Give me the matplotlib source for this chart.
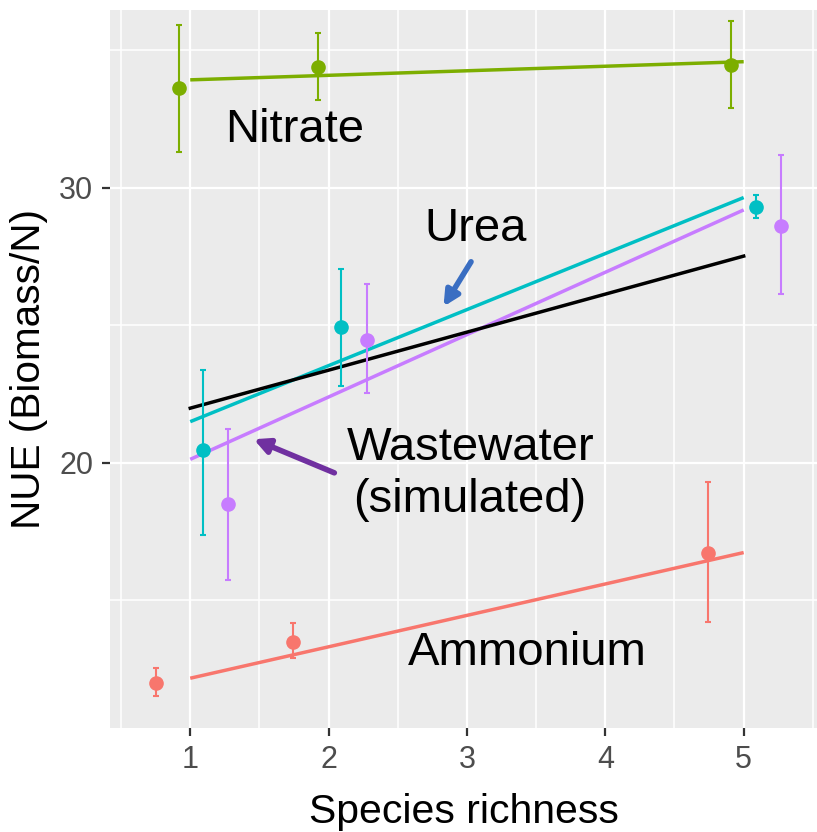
import matplotlib
matplotlib.use("Agg")
import matplotlib.pyplot as plt
from matplotlib.ticker import MultipleLocator

plt.rcParams['font.family'] = ['Liberation Sans', 'DejaVu Sans']

# ---- data ----
series = ["Ammonium", "Nitrate", "Urea", "Wastewater"]
colors = {"Ammonium": "#F8766D", "Nitrate": "#7CAE00", "Urea": "#00BFC4", "Wastewater": "#C77CFF"}

amm_x = [0.75, 1.74, 4.74]
amm_y = [11.99, 13.48, 16.74]
amm_lo = [11.53, 12.90, 14.23]
amm_hi = [12.53, 14.17, 19.30]

nit_x = [0.92, 1.92, 4.91]
nit_y = [33.65, 34.41, 34.47]
nit_lo = [31.32, 33.20, 32.90]
nit_hi = [35.93, 35.62, 36.07]

urea_x = [1.09, 2.09, 5.09]
urea_y = [20.47, 24.93, 29.30]
urea_lo = [17.38, 22.81, 28.90]
urea_hi = [23.38, 27.04, 29.75]

ww_x = [1.27, 2.28, 5.27]
ww_y = [18.51, 24.47, 28.60]
ww_lo = [15.75, 22.53, 26.15]
ww_hi = [21.24, 26.51, 31.19]

fit_x = [1, 5]
fit_amm = [12.17, 16.74]
fit_nit = [33.93, 34.59]
fit_urea = [21.50, 29.65]
fit_ww = [20.13, 29.20]
fit_all = [21.99, 27.52]

x_ticks = [1, 2, 3, 4, 5]
y_ticks = [20, 30]

# ---- figure ----
fig = plt.figure(figsize=(8.17, 8.32), dpi=100)
ax = fig.add_axes([110/817, 1 - 728/832, (817 - 110)/817, (728 - 10)/832])
ax.set_facecolor("#EBEBEB")
for s in ax.spines.values():
    s.set_visible(False)

ax.set_xlim(0.42, 5.53)
ax.set_ylim(10.36, 36.47)
ax.xaxis.set_major_locator(MultipleLocator(1))
ax.xaxis.set_minor_locator(MultipleLocator(0.5))
ax.yaxis.set_major_locator(MultipleLocator(10))
ax.yaxis.set_minor_locator(MultipleLocator(5))
ax.set_xticks(x_ticks)
ax.set_yticks(y_ticks)
ax.grid(which="major", color="white", linewidth=1.6)
ax.grid(which="minor", color="white", linewidth=1.1)
ax.set_axisbelow(True)
ax.tick_params(which="minor", length=0)
ax.tick_params(which="major", length=6, width=1.6, color="#333333",
               labelsize=22, labelcolor="#4D4D4D", pad=6)

data = {
    "Ammonium": (amm_x, amm_y, amm_lo, amm_hi, fit_amm),
    "Nitrate": (nit_x, nit_y, nit_lo, nit_hi, fit_nit),
    "Urea": (urea_x, urea_y, urea_lo, urea_hi, fit_urea),
    "Wastewater": (ww_x, ww_y, ww_lo, ww_hi, fit_ww),
}

for name in series:
    x, y, lo, hi, fy = data[name]
    c = colors[name]
    ax.plot(fit_x, fy, color=c, linewidth=2.5, solid_capstyle="butt", zorder=3)
    yerr = [[yy - l for yy, l in zip(y, lo)], [h - yy for yy, h in zip(y, hi)]]
    ax.errorbar(x, y, yerr=yerr, fmt="o", color=c, markersize=9.5, elinewidth=1.5,
                capsize=2, capthick=1.5, zorder=4)

ax.plot(fit_x, fit_all, color="black", linewidth=2.5, zorder=3)

# ---- annotations ----
fs = 34
ax.text(1.25, 31.67, "Nitrate", fontsize=fs, ha="left", va="baseline")
ax.text(2.69, 28.08, "Urea", fontsize=fs, ha="left", va="baseline")
ax.text(2.135, 20.11, "Wastewater", fontsize=fs, ha="left", va="baseline")
ax.text(2.18, 18.22, "(simulated)", fontsize=fs, ha="left", va="baseline")
ax.text(2.57, 12.65, "Ammonium", fontsize=fs, ha="left", va="baseline")

ax.annotate("", xy=(2.82, 25.6), xytext=(3.04, 27.4),
            arrowprops=dict(arrowstyle="-|>,head_length=0.9,head_width=0.45",
                            color="#3A6EC2", lw=4))
ax.annotate("", xy=(1.44, 20.9), xytext=(2.06, 19.6),
            arrowprops=dict(arrowstyle="-|>,head_length=0.9,head_width=0.45",
                            color="#7030A0", lw=4))

ax.set_xlabel("Species richness", fontsize=29.5, labelpad=13)
ax.set_ylabel("NUE (Biomass/N)", fontsize=29.2, labelpad=8)

fig.savefig("out.png", dpi=100)
